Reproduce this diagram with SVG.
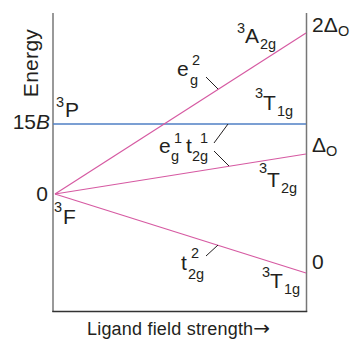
<svg xmlns="http://www.w3.org/2000/svg" width="350" height="340" viewBox="0 0 350 340">
<style>
text{font-family:"Liberation Sans",Arial,sans-serif;fill:#231f20}
.m{font-size:21px}
.s{font-size:14.5px}
.b{font-size:18px}
.ax{stroke:#777;stroke-width:1.5;fill:none}
.bax{stroke:#333;stroke-width:1.5;fill:none}
.pk{stroke:#d65aa2;stroke-width:1.2;fill:none}
.bl{stroke:#4f7fc4;stroke-width:1.5;fill:none}
.tk{stroke:#231f20;stroke-width:1;fill:none}
</style>
<rect width="350" height="340" fill="#fff"/>
<g id="axes">
<line class="ax" x1="53" y1="13" x2="53" y2="312"/>
<line class="ax" x1="306.5" y1="13" x2="306.5" y2="312"/>
<line class="bax" x1="52.3" y1="311.5" x2="307.2" y2="311.5"/>
</g>
<g id="connectors">
<line class="bl" x1="53" y1="124" x2="306" y2="124"/>
<line class="pk" x1="55" y1="194" x2="306" y2="33"/>
<line class="pk" x1="55" y1="194" x2="306" y2="154"/>
<line class="pk" x1="55" y1="194" x2="306" y2="273"/>
<line class="tk" x1="206" y1="77" x2="218" y2="89"/>
<line class="tk" x1="214" y1="143" x2="228" y2="124"/>
<line class="tk" x1="214" y1="151" x2="229" y2="166"/>
<line class="tk" x1="206" y1="256" x2="218" y2="245"/>
</g>
<g id="energy"><text class="m" transform="translate(38,63) rotate(-90)" text-anchor="middle" letter-spacing="0.3">Energy</text></g>
<g id="l15B"><text class="m" x="50" y="129" text-anchor="end">15<tspan font-style="italic">B</tspan></text></g>
<g id="l3P"><text class="s" x="56" y="107">3</text><text class="m" x="65" y="117">P</text></g>
<g id="l0left"><text class="m" x="48" y="201" text-anchor="end">0</text></g>
<g id="l3F"><text class="s" x="54" y="212">3</text><text class="m" x="63" y="224">F</text></g>
<g id="l3A2g"><text class="s" x="237" y="33">3</text><text class="m" x="245" y="43">A</text><text class="s" x="260" y="49">2g</text></g>
<g id="l2Do"><text class="m" x="312" y="32">2Δ</text><text class="s" x="338" y="36">O</text></g>
<g id="leg2"><text class="m" x="177" y="76">e</text><text class="s" x="192" y="65">2</text><text class="s" x="190" y="85">g</text></g>
<g id="l3T1g_up"><text class="s" x="255" y="98">3</text><text class="m" x="263" y="110">T</text><text class="s" x="277" y="116">1g</text></g>
<g id="leg1t2g1"><text class="m" x="159" y="153">e</text><text class="s" x="171" y="161">g</text><text class="s" x="174" y="143">1</text><text class="m" x="186" y="153">t</text><text class="s" x="192" y="161">2g</text><text class="s" x="200" y="143">1</text></g>
<g id="lDo"><text class="m" x="312" y="152">Δ</text><text class="s" x="326" y="156">O</text></g>
<g id="l3T2g"><text class="s" x="259" y="173">3</text><text class="m" x="267" y="187">T</text><text class="s" x="281" y="193">2g</text></g>
<g id="lt2g2"><text class="m" x="181" y="270">t</text><text class="s" x="191" y="258">2</text><text class="s" x="188" y="279">2g</text></g>
<g id="l0right"><text class="m" x="312" y="269">0</text></g>
<g id="l3T1g_low"><text class="s" x="262" y="277">3</text><text class="m" x="270" y="288">T</text><text class="s" x="284" y="294">1g</text></g>
<g id="xlabel"><text class="b" x="87" y="335" letter-spacing="0.2">Ligand field strength<tspan font-family="'DejaVu Sans',sans-serif" font-size="20">→</tspan></text></g>
</svg>
